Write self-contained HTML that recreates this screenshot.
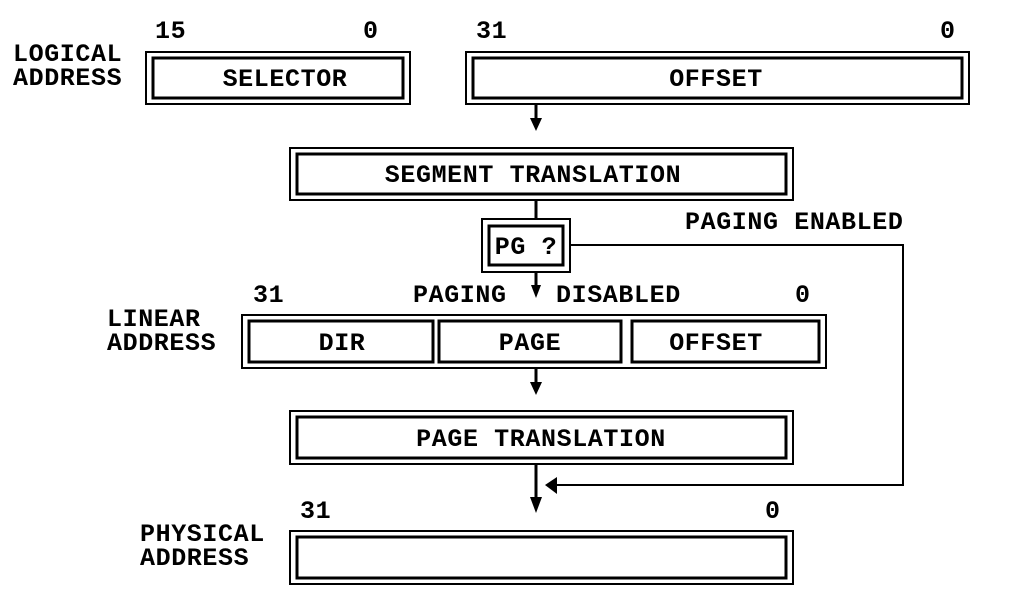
<!DOCTYPE html>
<html><head><meta charset="utf-8"><style>
html,body{margin:0;padding:0;background:#fff;}
svg{display:block}
text{font-family:"Liberation Mono",monospace;font-weight:bold;font-size:25px;fill:#000;letter-spacing:0.6px}
</style></head><body>
<svg width="1036" height="614" viewBox="0 0 1036 614" xmlns="http://www.w3.org/2000/svg">
<g fill="none" stroke="#000">
<!-- selector -->
<rect x="146" y="52" width="264" height="52" stroke-width="2"/>
<rect x="153" y="58" width="250" height="40" stroke-width="3"/>
<!-- offset -->
<rect x="466" y="52" width="503" height="52" stroke-width="2"/>
<rect x="473" y="58" width="489" height="40" stroke-width="3"/>
<!-- segment translation -->
<rect x="290" y="148" width="503" height="52" stroke-width="2"/>
<rect x="297" y="154" width="489" height="40" stroke-width="3"/>
<!-- PG -->
<rect x="482" y="219" width="88" height="53" stroke-width="2"/>
<rect x="489" y="226" width="74" height="39" stroke-width="3"/>
<!-- linear -->
<rect x="242" y="315" width="584" height="53" stroke-width="2"/>
<rect x="249" y="321" width="184" height="41" stroke-width="3"/>
<rect x="439" y="321" width="182" height="41" stroke-width="3"/>
<rect x="632" y="321" width="187" height="41" stroke-width="3"/>
<!-- page translation -->
<rect x="290" y="411" width="503" height="53" stroke-width="2"/>
<rect x="297" y="417" width="489" height="41" stroke-width="3"/>
<!-- physical -->
<rect x="290" y="531" width="503" height="53" stroke-width="2"/>
<rect x="297" y="537" width="489" height="41" stroke-width="3"/>
<!-- connectors -->
<line x1="536" y1="104" x2="536" y2="120" stroke-width="3"/>
<line x1="536" y1="200" x2="536" y2="219" stroke-width="3"/>
<line x1="536" y1="272" x2="536" y2="286" stroke-width="3"/>
<line x1="536" y1="368" x2="536" y2="384" stroke-width="3"/>
<line x1="536" y1="464" x2="536" y2="500" stroke-width="3"/>
<polyline points="570,245 903,245 903,485 555,485" stroke-width="2"/>
</g>
<g fill="#000">
<polygon points="530,118 542,118 536,131"/>
<polygon points="531,285 541,285 536,298"/>
<polygon points="530,382 542,382 536,395"/>
<polygon points="530,497 542,497 536,513"/>
<polygon points="545,485 557,477 557,494"/>
</g>
<text x="155" y="38">15</text>
<text x="363" y="38">0</text>
<text x="476" y="38">31</text>
<text x="940" y="38">0</text>
<text x="13" y="61">LOGICAL</text>
<text x="13" y="85">ADDRESS</text>
<text x="285" y="86" text-anchor="middle">SELECTOR</text>
<text x="716" y="86" text-anchor="middle">OFFSET</text>
<text x="533" y="182" text-anchor="middle">SEGMENT TRANSLATION</text>
<text x="685" y="229">PAGING ENABLED</text>
<text x="526" y="254" text-anchor="middle">PG ?</text>
<text x="253" y="302">31</text>
<text x="413" y="302">PAGING</text>
<text x="556" y="302">DISABLED</text>
<text x="795" y="302">0</text>
<text x="107" y="326">LINEAR</text>
<text x="107" y="350">ADDRESS</text>
<text x="342" y="350" text-anchor="middle">DIR</text>
<text x="530" y="350" text-anchor="middle">PAGE</text>
<text x="716" y="350" text-anchor="middle">OFFSET</text>
<text x="541" y="446" text-anchor="middle">PAGE TRANSLATION</text>
<text x="300" y="518">31</text>
<text x="765" y="518">0</text>
<text x="140" y="541">PHYSICAL</text>
<text x="140" y="565">ADDRESS</text>
</svg>
</body></html>
